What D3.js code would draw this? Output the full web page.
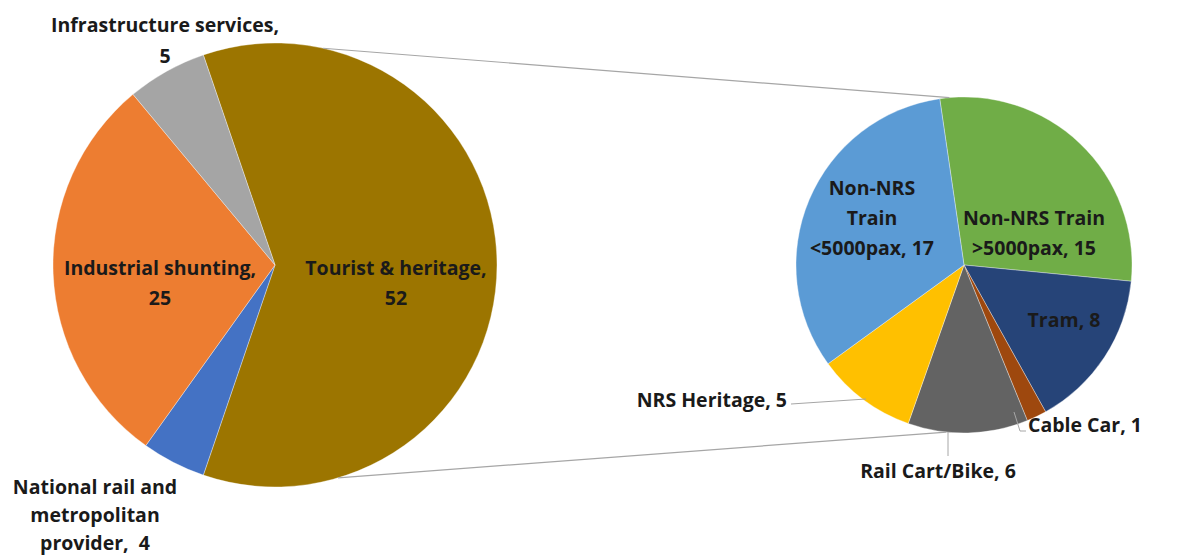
<!DOCTYPE html>
<html>
<head>
<meta charset="utf-8">
<script src="https://cdn.jsdelivr.net/npm/d3@7"></script>
<style>
  html, body { margin: 0; padding: 0; background: #ffffff; }
  svg { display: block; }
  text { font-family: "Open Sans", Lato, sans-serif; font-weight: bold; fill: #1a1a1a; white-space: pre; }
</style>
</head>
<body>
<svg id="chart" width="1179" height="555"></svg>
<script>
// Operator categories (primary pie)
const mainCategories = ["Tourist & heritage", "National rail and metropolitan provider", "Industrial shunting", "Infrastructure services"];
const mainValues = [52, 4, 25, 5];
const mainColors = ["#9c7500", "#4472c4", "#ed7d31", "#a5a5a5"];

// Breakdown of "Tourist & heritage" (secondary pie)
const subCategories = ["Non-NRS Train >5000pax", "Tram", "Cable Car", "Rail Cart/Bike", "NRS Heritage", "Non-NRS Train <5000pax"];
const subValues = [15, 8, 1, 6, 5, 17];
const subColors = ["#70ad47", "#264478", "#9e480e", "#636363", "#ffc000", "#5b9bd5"];

const svg = d3.select("#chart");
const deg = Math.PI / 180;

// ---- primary pie ----
const main = { cx: 275, cy: 265, r: 222 };
const mainTotal = d3.sum(mainValues);
// split slice centred on the right-hand side
const mainStart = 90 * deg - (mainValues[0] / mainTotal) * Math.PI;
const mainPie = d3.pie().sort(null).value(d => d)
  .startAngle(mainStart).endAngle(mainStart + 2 * Math.PI);
const mainArc = d3.arc().innerRadius(0).outerRadius(main.r);
const mainArcs = mainPie(mainValues);

const gMain = svg.append("g").attr("transform", `translate(${main.cx},${main.cy})`);
gMain.selectAll("path").data(mainArcs).join("path")
  .attr("d", mainArc)
  .attr("fill", (d, i) => mainColors[i])
  .attr("stroke", "#ffffff").attr("stroke-opacity", 0.35).attr("stroke-width", 1);

// ---- secondary pie ----
const sub = { cx: 964, cy: 265, r: 168 };
const subStart = -8.3 * deg;
const subPie = d3.pie().sort(null).value(d => d)
  .startAngle(subStart).endAngle(subStart + 2 * Math.PI);
const subArc = d3.arc().innerRadius(0).outerRadius(sub.r);
const subArcs = subPie(subValues);

const gSub = svg.append("g").attr("transform", `translate(${sub.cx},${sub.cy})`);
gSub.selectAll("path").data(subArcs).join("path")
  .attr("d", subArc)
  .attr("fill", (d, i) => subColors[i])
  .attr("stroke", "#ffffff").attr("stroke-opacity", 0.35).attr("stroke-width", 1);

// ---- connector lines between the pies ----
function onCircle(c, a) { return [c.cx + c.r * Math.sin(a), c.cy - c.r * Math.cos(a)]; }
const connectors = [
  [onCircle(main, 12.5 * deg), onCircle(sub, -5 * deg)],
  [onCircle(main, 163.5 * deg), onCircle(sub, 186 * deg)]
];
svg.append("g").selectAll("line").data(connectors).join("line")
  .attr("x1", d => d[0][0]).attr("y1", d => d[0][1])
  .attr("x2", d => d[1][0]).attr("y2", d => d[1][1])
  .attr("stroke", "#a6a6a6").attr("stroke-width", 1.2);

// ---- data labels ----
const fs = 19.5;
function label(lines, x, y, anchor, gap) {
  const t = svg.append("text").attr("text-anchor", anchor || "middle").attr("font-size", fs);
  lines.forEach((ln, i) => t.append("tspan").attr("x", x).attr("y", y + i * (gap || 30)).text(ln));
}
label([mainCategories[3] + ",", String(mainValues[3])], 165, 32, "middle", 31);
label([mainCategories[2] + ",", String(mainValues[2])], 160, 275);
label([mainCategories[0] + ",", String(mainValues[0])], 396, 275);
label(["National rail and", "metropolitan", "provider,  " + mainValues[1]], 95, 494, "middle", 28);

label(["Non-NRS", "Train", "<5000pax, " + subValues[5]], 872, 195);
label(["Non-NRS Train", ">5000pax, " + subValues[0]], 1034, 225);
label([subCategories[1] + ", " + subValues[1]], 1064, 327);
label([subCategories[4] + ", " + subValues[4]], 787, 407, "end");
label([subCategories[2] + ", " + subValues[2]], 1028, 432, "start");
label([subCategories[3] + ", " + subValues[3]], 938, 478);

// leader lines for the small outside labels
const leaders = [
  [[791, 404], [866, 399]],
  [[1014, 412], [1020, 431], [1026, 431]],
  [[948, 432], [948, 456]]
];
svg.append("g").selectAll("path").data(leaders).join("path")
  .attr("d", d => d3.line()(d))
  .attr("fill", "none").attr("stroke", "#a6a6a6").attr("stroke-width", 1);
</script>
</body>
</html>
